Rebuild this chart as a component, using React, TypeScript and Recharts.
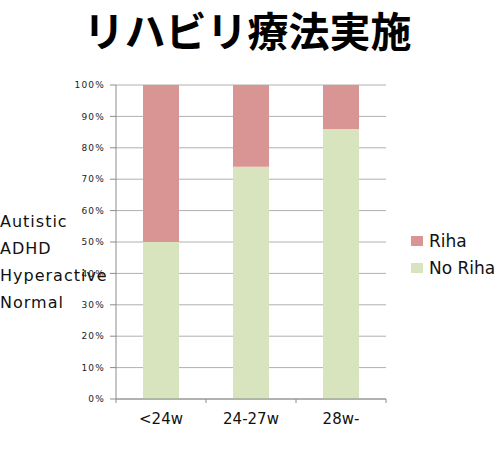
import React from 'react';
import { BarChart, Bar, XAxis, YAxis, CartesianGrid } from 'recharts';

const categories = ['<24w', '24-27w', '28w-'];
const rihaValues = [50, 26, 14];
const noRihaValues = [50, 74, 86];
const yTicks = [0, 10, 20, 30, 40, 50, 60, 70, 80, 90, 100];
const sideLabels = ['Autistic', 'ADHD', 'Hyperactive', 'Normal'];
const legendItems = [
  { label: 'Riha', color: '#D99594' },
  { label: 'No Riha', color: '#D7E4BD' },
];

const data = categories.map((c, i) => ({ name: c, riha: rihaValues[i], noRiha: noRihaValues[i] }));

const FONT = '"DejaVu Sans", Verdana, sans-serif';
const X_TICK_SIZE = 4;
const X_TICK_MARGIN = 10;

// category labels centred, tick marks on the band edges
function XTick(props: any) {
  const { x, y, payload, index, visibleTicksCount } = props;
  const half = payload?.offset ?? 0;
  const y1 = y - X_TICK_MARGIN - X_TICK_SIZE;
  const y2 = y - X_TICK_MARGIN;
  return (
    <g>
      <line x1={x - half} x2={x - half} y1={y1} y2={y2} stroke="#8C8C8C" />
      {index === visibleTicksCount - 1 && (
        <line x1={x + half} x2={x + half} y1={y1} y2={y2} stroke="#8C8C8C" />
      )}
      <text x={x} y={y} dy="0.71em" textAnchor="middle" fontSize={15} fontFamily={FONT} fill="#111">
        {payload.value}
      </text>
    </g>
  );
}

export default function App() {
  return (
    <div style={{ position: 'absolute', left: 0, top: 0, width: 501, height: 454, background: '#fff' }}>
      <div style={{
        position: 'absolute', left: -3, top: 0, width: 501, textAlign: 'center',
        fontFamily: '"Noto Sans CJK JP", sans-serif', fontWeight: 700, fontSize: 41, lineHeight: '58px', color: '#000',
      }}>
        リハビリ療法実施
      </div>

      <BarChart
        width={501}
        height={454}
        data={data}
        margin={{ top: 85, right: 115, bottom: 25, left: 0 }}
        barCategoryGap="30%"
      >
        <CartesianGrid vertical={false} stroke="#B0B0B0" />
        <XAxis
          dataKey="name"
          height={30}
          tickLine={false}
          tickSize={X_TICK_SIZE}
          tickMargin={X_TICK_MARGIN}
          axisLine={{ stroke: '#8C8C8C' }}
          tick={<XTick />}
          interval={0}
        />
        <YAxis
          width={116}
          domain={[0, 100]}
          ticks={yTicks}
          tickFormatter={(v: number) => `${v}%`}
          tickSize={6}
          tickMargin={5}
          tickLine={{ stroke: '#8C8C8C' }}
          axisLine={{ stroke: '#8C8C8C' }}
          tick={{ fontSize: 9, fontFamily: FONT, fill: '#222', letterSpacing: 1.2 }}
          interval={0}
        />
        <Bar dataKey="noRiha" stackId="a" fill="#D7E4BD" isAnimationActive={false} />
        <Bar dataKey="riha" stackId="a" fill="#D99594" isAnimationActive={false} />
      </BarChart>

      <div style={{ position: 'absolute', left: 0, top: 208, fontFamily: FONT, fontSize: 16, letterSpacing: 1, color: '#111' }}>
        {sideLabels.map(s => (
          <div key={s} style={{ height: 27, lineHeight: '27px', whiteSpace: 'nowrap' }}>{s}</div>
        ))}
      </div>

      <div style={{ position: 'absolute', left: 411, top: 227, fontFamily: FONT, fontSize: 17, color: '#111' }}>
        {legendItems.map(l => (
          <div key={l.label} style={{ display: 'flex', alignItems: 'center', height: 27.5, whiteSpace: 'nowrap' }}>
            <span style={{ display: 'inline-block', width: 12, height: 10, background: l.color, marginRight: 6 }} />
            {l.label}
          </div>
        ))}
      </div>
    </div>
  );
}
